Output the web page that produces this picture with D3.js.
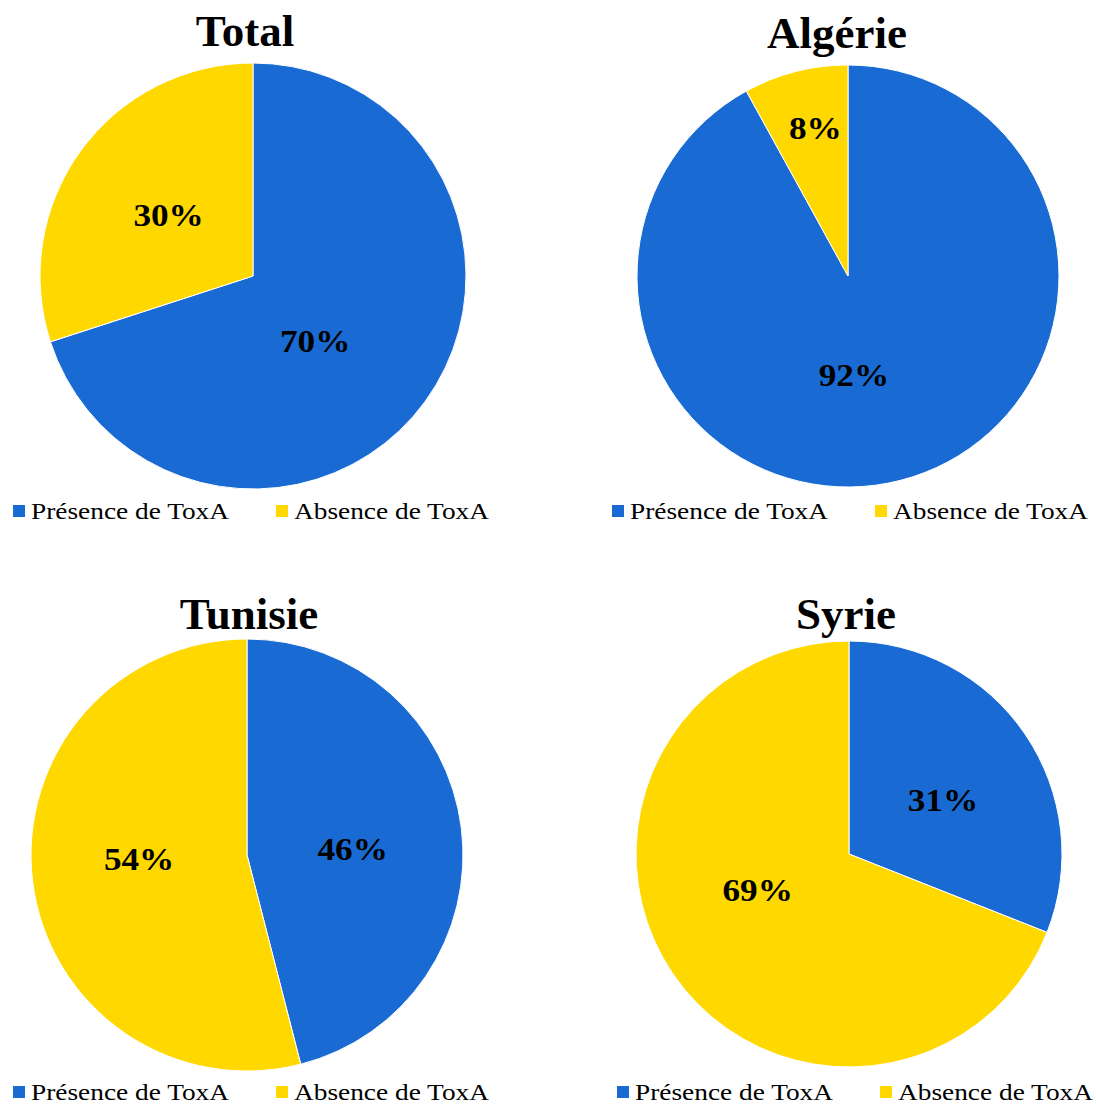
<!DOCTYPE html>
<html lang="fr">
<head>
<meta charset="UTF-8">
<title>ToxA</title>
<script src="https://d3js.org/d3.v7.min.js"></script>
<style>
  body { margin: 0; background: #fff; }
  text { font-family: "Liberation Serif", "Times New Roman", serif; }
</style>
</head>
<body>
<svg width="1096" height="1106"></svg>
<script>
const categories = ["Présence de ToxA", "Absence de ToxA"];
const titles = ["Total", "Algérie", "Tunisie", "Syrie"];
const presence = [70, 92, 46, 31];
const absence = [30, 8, 54, 69];
const colors = ["#196BD3", "#FFD800"];

// layout per panel (label radius as fraction of r, label angle nudge in degrees)
const panels = [
  {cx: 253, cy: 276, r: 213, titleX: 245, titleY: 46, legendX: 13, legendY: 511, labelK: [0.42, 0.49], shift: [10, 0]},
  {cx: 848, cy: 276, r: 211, titleX: 837, titleY: 48, legendX: 612, legendY: 511, labelK: [0.47, 0.72], shift: [11, 2]},
  {cx: 247, cy: 855, r: 216, titleX: 249, titleY: 629, legendX: 13, legendY: 1092, labelK: [0.49, 0.50], shift: [4, 5]},
  {cx: 849, cy: 854, r: 213, titleX: 846, titleY: 629, legendX: 617, legendY: 1092, labelK: [0.51, 0.46], shift: [4, 13]}
];

const svg = d3.select("svg");
const pie = d3.pie().sort(null).value(d => d.value);

titles.forEach((title, i) => {
  const p = panels[i];
  const data = categories.map((c, j) => ({cat: c, value: [presence[i], absence[i]][j]}));
  const g = svg.append("g").attr("transform", `translate(${p.cx},${p.cy})`);
  const arc = d3.arc().innerRadius(0).outerRadius(p.r);
  const arcs = pie(data);

  g.selectAll("path").data(arcs).join("path")
    .attr("d", arc)
    .attr("fill", (d, j) => colors[j])
    .attr("stroke", "#fff")
    .attr("stroke-width", 1);

  g.selectAll("text.lbl").data(arcs).join("text")
    .attr("class", "lbl")
    .attr("transform", (d, j) => {
      const a = (d.startAngle + d.endAngle) / 2 + p.shift[j] * Math.PI / 180;
      const k = p.labelK[j] * p.r;
      return `translate(${Math.sin(a) * k},${-Math.cos(a) * k}) scale(1.1,1)`;
    })
    .attr("text-anchor", "middle")
    .attr("dy", "0.35em")
    .attr("font-size", 32)
    .attr("font-weight", "bold")
    .attr("fill", "#000")
    .text(d => d.data.value + "%");

  svg.append("text")
    .attr("x", p.titleX)
    .attr("y", p.titleY)
    .attr("text-anchor", "middle")
    .attr("font-size", 45)
    .attr("font-weight", "bold")
    .text(title);

  // legend
  const lg = svg.append("g").attr("transform", `translate(${p.legendX},${p.legendY})`);
  const items = lg.selectAll("g").data(categories).join("g")
    .attr("transform", (d, j) => `translate(${j * 263},0)`);
  items.append("rect")
    .attr("x", 0).attr("y", -6).attr("width", 12).attr("height", 12)
    .attr("fill", (d, j) => colors[j]);
  items.append("text")
    .attr("transform", "translate(18,0) scale(1.14,1)")
    .attr("dy", "0.33em")
    .attr("font-size", 24)
    .text(d => d);
});
</script>
</body>
</html>
